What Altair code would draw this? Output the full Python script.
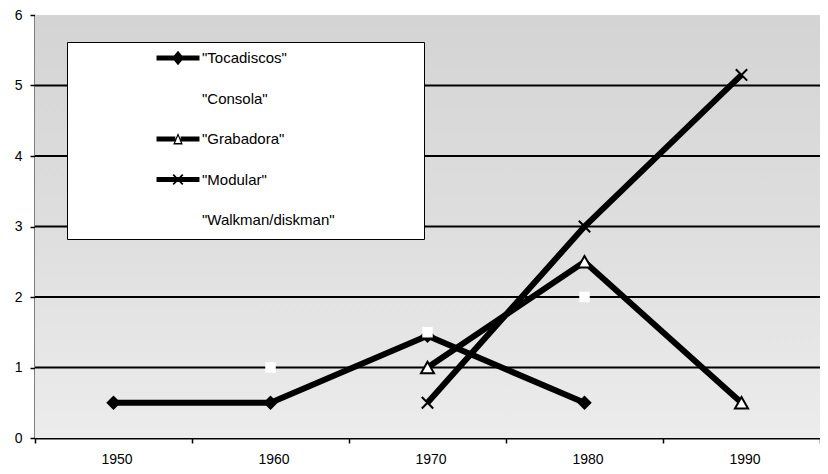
import altair as alt
import pandas as pd

# ---- data ----
years = ["1950", "1960", "1970", "1980", "1990"]
series_names = ['"Tocadiscos"', '"Consola"', '"Grabadora"', '"Modular"', '"Walkman/diskman"']
tocadiscos = [0.5, 0.5, 1.45, 0.5, None]
consola = [None, 1.0, 1.5, None, None]
grabadora = [None, None, 1.0, 2.5, 0.5]
modular = [None, None, 0.5, 3.0, 5.15]
walkman = [None, None, None, 2.0, None]
series_colors = ["black", "white", "black", "black", "white"]
y_ticks = [0, 1, 2, 3, 4, 5, 6]

rows = []
for name, vals in zip(series_names, [tocadiscos, consola, grabadora, modular, walkman]):
    for yr, v in zip(years, vals):
        if v is not None:
            rows.append({"year": yr, "series": name, "value": v})
df = pd.DataFrame(rows)
grid_df = pd.DataFrame({"value": y_ticks[1:-1]})
bg_df = pd.DataFrame({"value": [y_ticks[0]]})

# ---- legend symbol shapes (line with marker) ----
LINE = "M-1.79,-0.2H1.79V0.2H-1.79Z"
leg_diamond = LINE + " M0,-0.6L0.5,0L0,0.6L-0.5,0Z"
leg_triangle = ("M-1.79,-0.2H-0.22V0.2H-1.79Z M0.22,-0.2H1.79V0.2H0.22Z "
                "M0,-0.5L0.4,0.45L-0.4,0.45Z M0,-0.25L-0.24,0.33L0.24,0.33Z")
leg_x = (LINE + " M-0.35,-0.45L0.45,0.35L0.35,0.45L-0.45,-0.35Z"
         " M-0.45,0.35L0.35,-0.45L0.45,-0.35L-0.35,0.45Z")
legend_shapes = [leg_diamond, LINE, leg_triangle, leg_x, LINE]
X_PATH = "M-1,-1L1,1M-1,1L1,-1"

FONT = "Liberation Sans"

x_enc = alt.X(
    "year:N",
    scale=alt.Scale(type="band", domain=years, paddingInner=0, paddingOuter=0),
    axis=alt.Axis(title=None, labelAngle=0, tickBand="extent", grid=False,
                  domainColor="black", domainWidth=2, tickColor="black",
                  tickWidth=1.5, tickSize=5, labelFont=FONT, labelFontSize=14,
                  labelColor="black", labelPadding=9, labelOffset=3),
)
y_enc = alt.Y(
    "value:Q",
    scale=alt.Scale(domain=[y_ticks[0], y_ticks[-1]], nice=False),
    axis=alt.Axis(title=None, values=y_ticks, grid=False,
                  domainColor="black", domainWidth=2, tickColor="black",
                  tickWidth=1.5, tickSize=5, labelFont=FONT, labelFontSize=14,
                  labelColor="black", labelPadding=8),
)

# background of the plot area (gray, darker at the top like the scan)
background = alt.Chart(bg_df).mark_rect(
    color=alt.LinearGradient(
        gradient="linear", x1=0, x2=0, y1=0, y2=1,
        stops=[alt.GradientStop(color="#d4d4d4", offset=0),
               alt.GradientStop(color="#dedede", offset=0.5),
               alt.GradientStop(color="#ececec", offset=1)],
    )
).encode(y=y_enc, y2=alt.datum(y_ticks[-1]))

grid = alt.Chart(grid_df).mark_rule(color="black", strokeWidth=2).encode(y=y_enc)

base = alt.Chart(df).encode(x=x_enc, y=y_enc)

black_names = [s for s, c in zip(series_names, series_colors) if c == "black"]
white_names = [s for s, c in zip(series_names, series_colors) if c == "white"]

lines_black = base.transform_filter(
    alt.FieldOneOfPredicate(field="series", oneOf=black_names)
).mark_line(color="black", strokeWidth=6).encode(detail="series:N")

pts_diamond = base.transform_filter(
    alt.FieldEqualPredicate(field="series", equal=series_names[0])
).mark_point(shape="diamond", filled=True, color="black", size=210, opacity=1)

pts_tri = base.transform_filter(
    alt.FieldEqualPredicate(field="series", equal=series_names[2])
).mark_point(shape="triangle-up", filled=True, fill="white", stroke="black",
             strokeWidth=2, size=170, opacity=1)

pts_x = base.transform_filter(
    alt.FieldEqualPredicate(field="series", equal=series_names[3])
).mark_point(shape=X_PATH, filled=False, stroke="black", strokeWidth=2,
             size=130, opacity=1)

pts_white = base.transform_filter(
    alt.FieldOneOfPredicate(field="series", oneOf=white_names)
).mark_point(shape="square", filled=True, color="white", size=110, opacity=1)

leg = alt.Legend(
    orient="none", legendX=32, legendY=27, title="\u00a0", titleOrient="right",
    titlePadding=85, titleFontSize=99, titleLineHeight=99, titleBaseline="top",
    padding=4, rowPadding=20.5,
    symbolOffset=95, labelOffset=12, symbolSize=576, symbolStrokeWidth=0,
    symbolOpacity=1,
    labelFont=FONT, labelFontSize=15, labelColor="black", labelLimit=400,
    fillColor="white", strokeColor="black",
)

legend_layer = base.transform_filter("false").mark_point(filled=True, opacity=1, size=576).encode(
    shape=alt.Shape("series:N", scale=alt.Scale(domain=series_names, range=legend_shapes), legend=leg),
    color=alt.Color("series:N", scale=alt.Scale(domain=series_names, range=series_colors), legend=leg),
)

chart = alt.layer(
    background, grid, lines_black, pts_diamond, pts_tri, pts_x,
    pts_white, legend_layer
).properties(
    width=785, height=423,
    autosize=alt.AutoSizeParams(type="none"),
    padding={"left": 27, "top": 7, "right": 0, "bottom": 30},
).configure_view(
    strokeWidth=0
).configure_axis(
    labelFontSize=14, labelFont=FONT, labelColor="black"
).configure_legend(
    strokeWidth=1.5
).configure(font=FONT)

chart.save("out.html", embed_options={"renderer": "svg", "actions": False})
